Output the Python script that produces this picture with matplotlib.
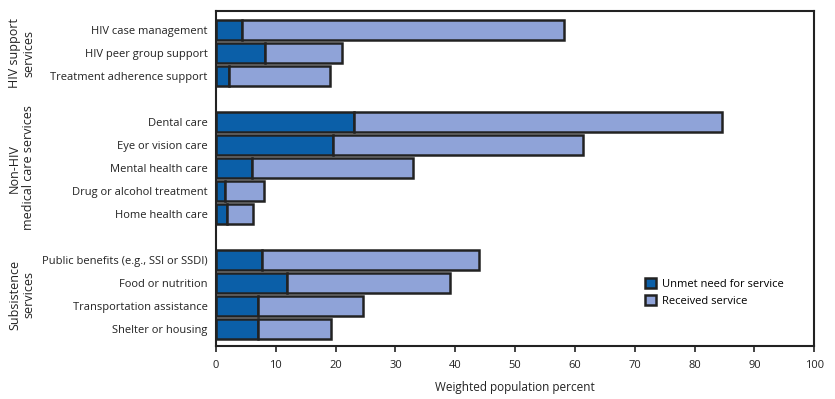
import matplotlib
matplotlib.use("Agg")
import matplotlib.pyplot as plt
import numpy as np

plt.rcParams['font.family'] = ['Open Sans', 'DejaVu Sans']

services = ["HIV case management", "HIV peer group support", "Treatment adherence support",
            "Dental care", "Eye or vision care", "Mental health care",
            "Drug or alcohol treatment", "Home health care",
            "Public benefits (e.g., SSI or SSDI)", "Food or nutrition",
            "Transportation assistance", "Shelter or housing"]
# row slots (blank rows 3 and 9 separate the groups)
rows = [0, 1, 2, 4, 5, 6, 7, 8, 10, 11, 12, 13]
unmet = [4.3, 8.2, 2.2, 23.1, 19.5, 6.0, 1.5, 1.8, 7.7, 11.9, 7.0, 7.0]
total = [58.1, 21.1, 19.0, 84.6, 61.3, 33.0, 8.0, 6.2, 44.0, 39.2, 24.6, 19.3]
received = [t - u for t, u in zip(total, unmet)]

groups = ["HIV support\nservices", "Non-HIV\nmedical care services", "Subsistence\nservices"]
group_rows = [1, 6, 11.5]

dark = "#0b5fa8"
light = "#8fa3d8"

fig = plt.figure(figsize=(8.35, 3.99), dpi=100)
ax = fig.add_axes([0.2587, 0.1328, 0.7163, 0.8396])

ax.barh(rows, unmet, height=0.87, color=dark, edgecolor="#222222", linewidth=1.8,
        label="Unmet need for service")
ax.barh(rows, received, left=unmet, height=0.87, color=light, edgecolor="#222222",
        linewidth=1.8, label="Received service")

ax.set_ylim(13.74, -0.83)
ax.set_xlim(0, 100)
ax.set_yticks(rows)
ax.set_yticklabels(services, fontsize=8, color="#222222")
ax.tick_params(axis="y", length=0, pad=6)
ax.set_xticks(np.arange(0, 101, 10))
ax.tick_params(axis="x", labelsize=8, length=4, width=1.2, direction="out",
               colors="#222222", pad=6)
ax.set_xlabel("Weighted population percent", fontsize=8.5, color="#222222", labelpad=7)
for s in ax.spines.values():
    s.set_linewidth(1.5)
    s.set_color("#222222")

for g, r in zip(groups, group_rows):
    y = ax.transData.transform((0, r))[1]
    yf = fig.transFigure.inverted().transform((0, y))[1]
    fig.text(0.026, yf, g, rotation=90, ha="center", va="center", fontsize=9,
             color="#222222", linespacing=1.1, multialignment="center")

ax.legend(loc="lower left", bbox_to_anchor=(0.70, 0.087), frameon=False, fontsize=8,
          handlelength=1.0, handleheight=1.0, handletextpad=0.6, labelspacing=0.5)

fig.savefig("out.png", dpi=100)
